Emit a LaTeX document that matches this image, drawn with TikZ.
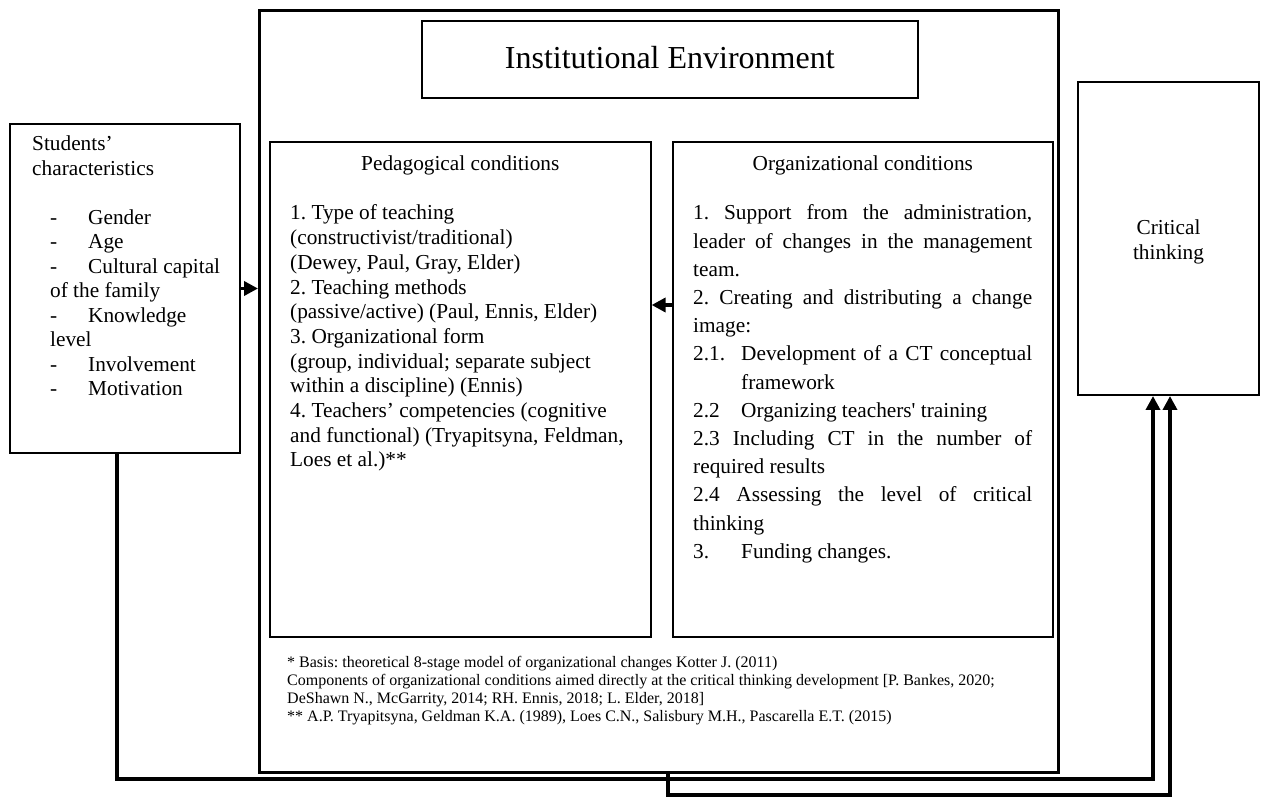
\documentclass[tikz,border=0pt]{standalone}
\usepackage{fontspec}
\setmainfont{Liberation Serif}
\usetikzlibrary{arrows.meta}
\begin{document}
\frenchspacing
\begin{tikzpicture}[x=1pt,y=-1pt,
  box/.style={draw, line width=1.6pt, inner sep=0pt, anchor=north west},
  bigbox/.style={box, line width=2.6pt},
  conn/.style={line width=3.6pt},
  tip/.style={-{Triangle[length=14pt,width=14pt]}},
  txt/.style={anchor=base west, inner sep=0pt}]
\useasboundingbox (0,0) rectangle (1264,799);

% boxes
\node[box, line width=2pt, minimum width=230pt, minimum height=329pt] (stud) at (9,123) {};
\node[bigbox, minimum width=799pt, minimum height=762pt] (outer) at (258,9) {};
\node[box, minimum width=496pt, minimum height=77pt] (title) at (421,20) {};
\node[anchor=base, inner sep=0pt, font=\fontsize{32}{37}\selectfont] (titletext) at (title.center |- 0,69) {Institutional Environment};
\node[box, minimum width=381pt, minimum height=495pt] (ped) at (269,141) {};
\node[box, minimum width=380pt, minimum height=495pt] (org) at (672,141) {};
\node[box, line width=2pt, minimum width=181pt, minimum height=313pt] (ct) at (1077,81) {};

% students text
\node[txt] (studtext) at (32,151) {\parbox[t]{215pt}{\fontsize{21.3}{24.5}\selectfont
Students’\\
characteristics\\
\mbox{}\\
\hspace*{18pt}\makebox[38pt][l]{-}Gender\\
\hspace*{18pt}\makebox[38pt][l]{-}Age\\
\hspace*{18pt}\makebox[38pt][l]{-}Cultural capital\\
\hspace*{18pt}of the family\\
\hspace*{18pt}\makebox[38pt][l]{-}Knowledge\\
\hspace*{18pt}level\\
\hspace*{18pt}\makebox[38pt][l]{-}Involvement\\
\hspace*{18pt}\makebox[38pt][l]{-}Motivation}};

% pedagogical
\node[anchor=base, inner sep=0pt, font=\fontsize{21.3}{24.6}\selectfont] (pedtitle) at (ped.center |- 0,171) {Pedagogical conditions};
\node[txt] (pedtext) at (290,220) {\parbox[t]{400pt}{\fontsize{21.3}{24.7}\selectfont
1. Type of teaching\\
(constructivist/traditional)\\
(Dewey, Paul, Gray, Elder)\\
2. Teaching methods\\
(passive/active) (Paul, Ennis, Elder)\\
3. Organizational form\\
(group, individual; separate subject\\
within a discipline) (Ennis)\\
4. Teachers’ competencies (cognitive\\
and functional) (Tryapitsyna, Feldman,\\
Loes et al.)**}};

% organizational
\node[anchor=base, inner sep=0pt, font=\fontsize{21.3}{24.6}\selectfont] (orgtitle) at (org.center |- 0,171) {Organizational conditions};
\node[txt] (orgtext) at (693,220) {\parbox[t]{400pt}{\fontsize{21.3}{28.2}\selectfont
\makebox[339pt][s]{1. Support from the administration,}\\
\makebox[339pt][s]{leader of changes in the management}\\
team.\\
\makebox[339pt][s]{2. Creating and distributing a change}\\
image:\\
\makebox[48pt][l]{2.1.}\makebox[291pt][s]{Development of a CT conceptual}\\
\hspace*{48pt}framework\\
\makebox[48pt][l]{2.2}Organizing teachers\textquotesingle\ training\\
\makebox[339pt][s]{2.3 Including CT in the number of}\\
required results\\
\makebox[339pt][s]{2.4 Assessing the level of critical}\\
thinking\\
\makebox[48pt][l]{3.}Funding changes.}};

% footnotes
\node[txt] (notes) at (287,667) {\parbox[t]{760pt}{\fontsize{16}{18.3}\selectfont
* Basis: theoretical 8-stage model of organizational changes Kotter J. (2011)\\
Components of organizational conditions aimed directly at the critical thinking development [P. Bankes, 2020;\\
DeShawn N., McGarrity, 2014; RH. Ennis, 2018; L. Elder, 2018]\\
{}** A.P. Tryapitsyna, Geldman K.A. (1989), Loes C.N., Salisbury M.H., Pascarella E.T. (2015)}};

% critical thinking text
\node[anchor=base, inner sep=0pt] (cttext) at (ct.center |- 0,235) {\parbox[t]{160pt}{\centering\fontsize{21.3}{25}\selectfont Critical\\thinking}};

% connectors
\coordinate (oa) at (660,305);
\coordinate (l1) at (117,779);
\coordinate (a1) at (1153,779);
\coordinate (l2) at (668,795);
\coordinate (a2) at (1170,795);

\draw[conn, tip] (stud.east) -- (stud.east -| outer.west);
\draw[conn, tip] (org.west |- oa) -- (ped.east |- oa);
\draw[conn, tip] (stud.south -| l1) -- (l1) -- (a1) -- (ct.south -| a1);
\draw[conn, tip] (outer.south -| l2) -- (l2) -- (a2) -- (ct.south -| a2);
\end{tikzpicture}
\end{document}
